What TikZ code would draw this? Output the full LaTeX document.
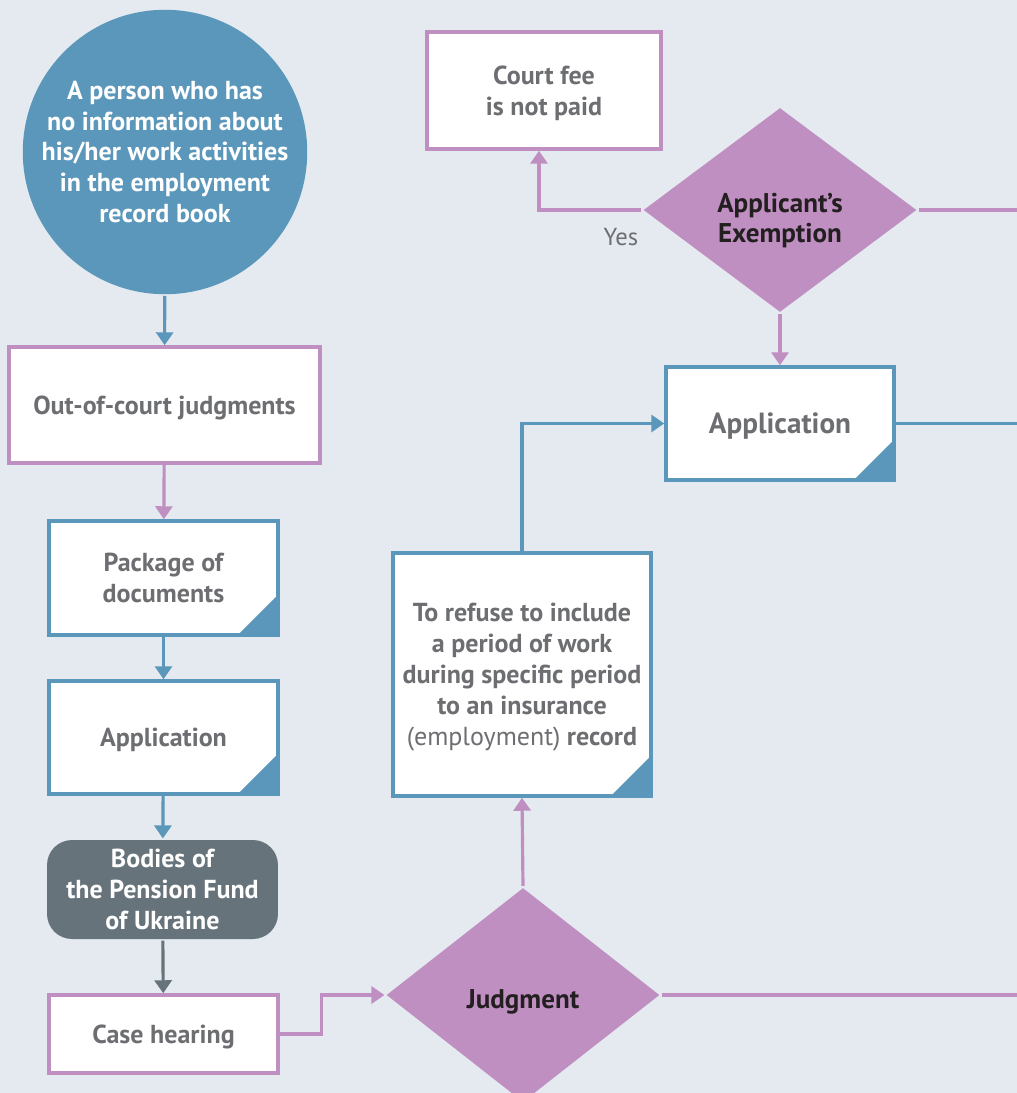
\documentclass[tikz,border=0pt]{standalone}
\usepackage{fontspec}
\setmainfont{PT Sans}
\usepackage{tikz}
\usetikzlibrary{arrows.meta,shapes.geometric,positioning}
\definecolor{bgc}{HTML}{E4EAEF}
\definecolor{blu}{HTML}{5B97BA}
\definecolor{pur}{HTML}{C08FC2}
\definecolor{slate}{HTML}{67737B}
\definecolor{txt}{HTML}{6D6E71}
\definecolor{ink}{HTML}{231F20}

\begin{document}
\begin{tikzpicture}[x=0.02cm,y=-0.02cm,>={Triangle[width=0.34cm,length=0.26cm]},
  line width=1.8pt,
  box node/.style={rectangle,fill=white,draw=pur,line width=2pt,align=center,
    font=\fontsize{14.8}{17.6}\selectfont\bfseries,text=txt,inner sep=0pt,text depth=0pt},
  doc node/.style={box node,draw=blu,
    path picture={\fill[blu] (path picture bounding box.south east) -- ++(-0.8cm,0) -- ++(0.8cm,0.8cm) -- cycle;}},
  round node/.style={circle,fill=blu,text=white,align=center,inner sep=0pt,
    minimum size=5.68cm,font=\fontsize{14.8}{17.6}\selectfont\bfseries},
  body node/.style={rectangle,rounded corners=0.5cm,fill=slate,text=white,align=center,
    inner sep=0pt,text depth=0pt,font=\fontsize{14.8}{17.6}\selectfont\bfseries},
  dec node/.style={diamond,fill=pur,text=ink,align=center,inner sep=0pt,
    minimum width=5.48cm,font=\fontsize{15.4}{17.6}\selectfont\bfseries}]

  % background
  \fill[bgc] (0,0) rectangle (1017,1093);
  \useasboundingbox (0,0) rectangle (1017,1093);

  % left column
  \node[round node] (person) at (165,152) {A person who has\\ no information about\\ his/her work activities\\ in the employment\\ record book};
  \node[box node,minimum width=6.22cm,minimum height=2.32cm] (outcourt) at (164.5,405) {Out-of-court judgments};
  \node[doc node,minimum width=4.58cm,minimum height=2.28cm] (package) at (163.5,578) {Package of\\ documents};
  \node[doc node,minimum width=4.58cm,minimum height=2.26cm] (appl) at (163.5,737.5) {Application};
  \node[body node,minimum width=4.62cm,minimum height=1.98cm] (bodies) at (162.5,889.5) {Bodies of\\ the Pension Fund\\ of Ukraine};
  \node[box node,minimum width=4.58cm,minimum height=1.56cm] (hearing) at (163.5,1034) {Case hearing};

  % right part
  \node[dec node,minimum height=4.3cm] (judgment) at (523,995) {\rule{0pt}{19pt}Judgment};
  \node[doc node,minimum width=5.16cm,minimum height=4.86cm] (refuse) at (522,674.5)
    {To refuse to include\\ a period of work\\ during specific period\\ to an insurance\\ {\mdseries (employment)} record};
  \node[doc node,minimum width=4.56cm,minimum height=2.26cm,font=\fontsize{16.6}{19}\selectfont\bfseries] (appr) at (780,423.5) {Application};
  \node[dec node,minimum height=4.1cm] (exempt) at (780,210) {\rule{0pt}{23pt}Applicant's\\ Exemption};
  \node[box node,minimum width=4.68cm,minimum height=2.34cm] (fee) at (544,90.5) {Court fee\\ is not paid};

  \coordinate (rj) at (1017,995);
  \coordinate (ra) at (1017,423.5);
  \coordinate (re) at (1017,210);

  % connectors
  \draw[blu,->] (person) -- (outcourt);
  \draw[pur,->] (outcourt) -- (package);
  \draw[blu,->] (package) -- (appl);
  \draw[blu,->] (appl) -- (bodies);
  \draw[slate,->] (bodies) -- (hearing);
  \draw[pur,->] (hearing.east) -- ++(42,0) |- (judgment.west);
  \draw[pur,->] (judgment.north) -- (refuse.south);
  \draw[pur] (judgment.east) -- (rj);
  \draw[blu,->] (refuse.north) |- (appr.west);
  \draw[blu] (appr.east) -- (ra);
  \draw[pur,->] (exempt.south) -- (appr.north);
  \draw[pur] (exempt.east) -- (re);
  \draw[pur,->] (exempt.west) -| node[pos=0.1,below=6pt,text=txt,font=\fontsize{14}{16}\selectfont]{Yes} ([xshift=-0.1cm]fee.south);
\end{tikzpicture}
\end{document}
